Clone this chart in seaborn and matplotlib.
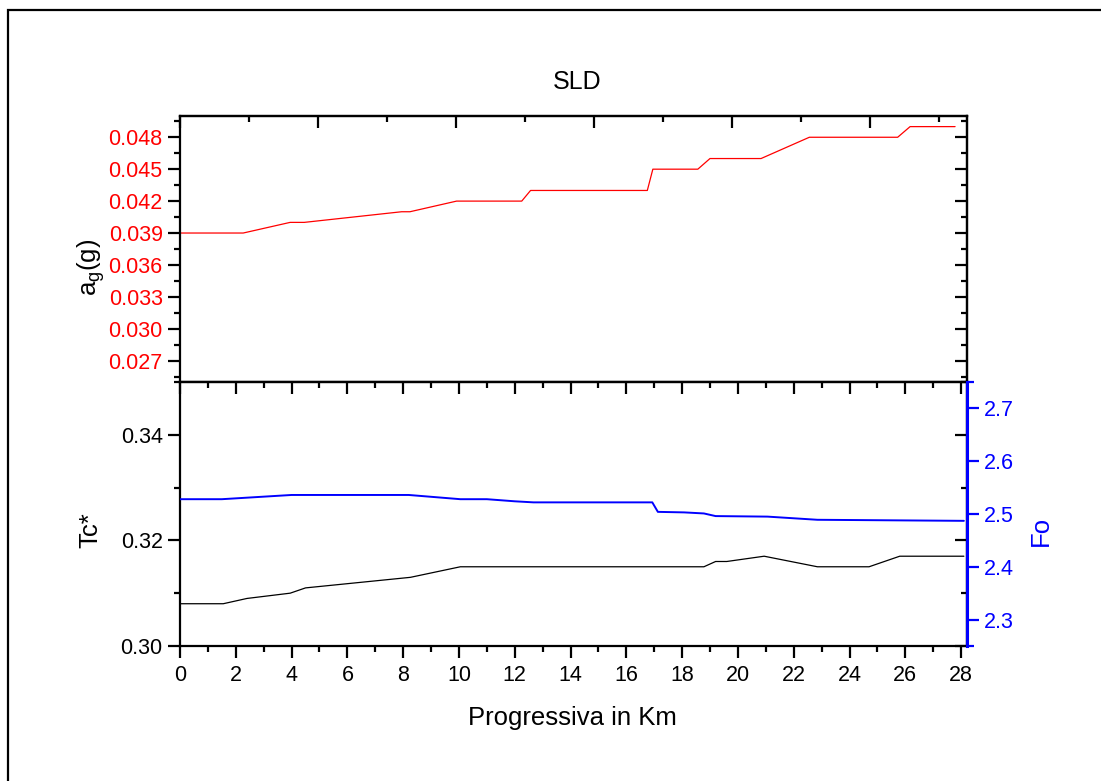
import matplotlib
matplotlib.use('Agg')
import matplotlib.pyplot as plt
from matplotlib.patches import Rectangle
from matplotlib.ticker import MultipleLocator, FixedLocator, FormatStrFormatter, NullFormatter
import pandas as pd
import seaborn as sns

# --- data ---
km_ag = [0, 2.29, 3.99, 4.5, 8.03, 8.33, 10.02, 12.38, 12.7, 16.93, 17.13,
         18.76, 19.2, 21.05, 22.8, 26.0, 26.45, 28.08]
ag_values = [0.039, 0.039, 0.040, 0.040, 0.041, 0.041, 0.042, 0.042, 0.043, 0.043,
             0.045, 0.045, 0.046, 0.046, 0.048, 0.048, 0.049, 0.049]

km_tc = [0, 1.55, 2.4, 3.95, 4.5, 8.26, 10.05, 18.78, 19.2, 19.6, 20.94,
         22.85, 24.7, 25.8, 28.1]
tc_values = [0.308, 0.308, 0.309, 0.310, 0.311, 0.313, 0.315, 0.315, 0.316, 0.316,
             0.317, 0.315, 0.315, 0.317, 0.317]

km_fo = [0, 1.5, 4.0, 8.2, 10.05, 11.0, 12.0, 12.67, 16.93, 17.13, 18.07,
         18.78, 19.2, 21.06, 22.85, 28.1]
fo_values = [2.528, 2.528, 2.536, 2.536, 2.528, 2.528, 2.524, 2.522, 2.522, 2.504,
             2.503, 2.501, 2.496, 2.495, 2.489, 2.487]

df_ag = pd.DataFrame({'km': km_ag, 'ag': ag_values})
df_tc = pd.DataFrame({'km': km_tc, 'tc': tc_values})
df_fo = pd.DataFrame({'km': km_fo, 'fo': fo_values})

sns.set_theme(style='ticks')
plt.rcParams['font.family'] = ['Liberation Sans', 'DejaVu Sans']
plt.rcParams['mathtext.fontset'] = 'custom'
plt.rcParams['mathtext.rm'] = 'Liberation Sans'
plt.rcParams['text.color'] = 'black'
plt.rcParams['axes.labelcolor'] = 'black'
plt.rcParams['xtick.color'] = 'black'
plt.rcParams['ytick.color'] = 'black'
plt.rcParams['axes.edgecolor'] = 'black'

TICK_FS = 15.5
LABEL_FS = 18.5
SPINE_W = 1.6


def _style_spines(ax, color='black'):
	for sp in ax.spines.values():
		sp.set_linewidth(SPINE_W)
		sp.set_color(color)


def _secondary(ax, where, major, minor, color='black'):
	if where in ('top', 'bottom'):
		sec = ax.secondary_xaxis(where)
		axis = sec.xaxis
	else:
		sec = ax.secondary_yaxis(where)
		axis = sec.yaxis
	axis.set_major_locator(major)
	axis.set_minor_locator(minor)
	axis.set_major_formatter(NullFormatter())
	sec.tick_params(which='major', direction='in', length=8.5, width=SPINE_W, color=color)
	sec.tick_params(which='minor', direction='in', length=4.5, width=SPINE_W, color=color)
	for sp in sec.spines.values():
		sp.set_linewidth(SPINE_W)
		sp.set_color(color)
	return sec


fig = plt.figure(figsize=(11.01, 7.81), dpi=100)
ax_top = fig.add_axes([0.1635, 0.5109, 0.7145, 0.3406])
ax_bot = fig.add_axes([0.1635, 0.1729, 0.7145, 0.3380])

# --- top panel: a_g ---
sns.lineplot(data=df_ag, x='km', y='ag', ax=ax_top, color='#ff0000', linewidth=0.9)
ax_top.set_xlim(0, 28.5)
ax_top.set_ylim(0.025, 0.050)
ax_top.set_xlabel('')
ax_top.set_ylabel('')
ax_top.yaxis.set_major_locator(MultipleLocator(0.003))
ax_top.yaxis.set_minor_locator(MultipleLocator(0.0015))
ax_top.yaxis.set_major_formatter(FormatStrFormatter('%.3f'))
ax_top.tick_params(axis='x', which='both', bottom=False, labelbottom=False)
ax_top.tick_params(axis='y', which='major', direction='out', length=8.5, width=SPINE_W,
                   labelsize=TICK_FS, labelcolor='#ff0000', pad=4)
ax_top.tick_params(axis='y', which='minor', direction='out', length=4.5, width=SPINE_W)
_style_spines(ax_top)
_secondary(ax_top, 'top', MultipleLocator(5), MultipleLocator(2.5))
_secondary(ax_top, 'right', MultipleLocator(0.003), MultipleLocator(0.0015))

# --- bottom panel: Tc* (left) and Fo (right) ---
sns.lineplot(data=df_tc, x='km', y='tc', ax=ax_bot, color='black', linewidth=0.9)
ax_bot.set_xlim(0, 28.2)
ax_bot.set_ylim(0.30, 0.35)
ax_bot.set_xlabel('')
ax_bot.set_ylabel('')
ax_bot.xaxis.set_major_locator(MultipleLocator(2))
ax_bot.xaxis.set_minor_locator(MultipleLocator(1))
ax_bot.yaxis.set_major_locator(MultipleLocator(0.02))
ax_bot.yaxis.set_minor_locator(MultipleLocator(0.01))
ax_bot.yaxis.set_major_formatter(FormatStrFormatter('%.2f'))
ax_bot.tick_params(which='major', direction='out', length=8.5, width=SPINE_W,
                   labelsize=TICK_FS, pad=4)
ax_bot.tick_params(which='minor', direction='out', length=4.5, width=SPINE_W)
ax_bot.tick_params(axis='x', which='major', pad=5)
_style_spines(ax_bot)
_secondary(ax_bot, 'top', MultipleLocator(2), MultipleLocator(1))
_secondary(ax_bot, 'right', MultipleLocator(0.02), MultipleLocator(0.01))

ax_fo = ax_bot.twinx()
sns.lineplot(data=df_fo, x='km', y='fo', ax=ax_fo, color='#0000ff', linewidth=1.4)
ax_fo.set_ylim(2.25, 2.75)
ax_fo.set_xlabel('')
ax_fo.set_ylabel('')
ax_fo.yaxis.set_major_locator(MultipleLocator(0.1))
ax_fo.yaxis.set_minor_locator(FixedLocator([2.25, 2.75]))
ax_fo.yaxis.set_major_formatter(FormatStrFormatter('%.1f'))
ax_fo.tick_params(axis='y', which='major', direction='out', length=8.5, width=SPINE_W,
                  color='#0000ff', labelcolor='#0000ff', labelsize=TICK_FS, pad=4)
ax_fo.tick_params(axis='y', which='minor', direction='out', length=5, width=SPINE_W,
                  color='#0000ff')
for name, sp in ax_fo.spines.items():
	sp.set_visible(name == 'right')
ax_fo.spines['right'].set_color('#0000ff')
ax_fo.spines['right'].set_linewidth(SPINE_W + 0.6)

# --- labels ---
fig.text(0.524, 0.886, 'SLD', ha='center', va='baseline', fontsize=18)
fig.text(0.5203, 0.0717, 'Progressiva in Km', ha='center', va='baseline', fontsize=LABEL_FS)
fig.text(0.0881, 0.658, r'a$_\mathregular{g}$(g)', rotation=90, rotation_mode='anchor',
         ha='center', va='baseline', fontsize=LABEL_FS)
fig.text(0.0881, 0.321, 'Tc*', rotation=90, rotation_mode='anchor',
         ha='center', va='baseline', fontsize=LABEL_FS)
fig.text(0.9519, 0.320, 'Fo', rotation=90, rotation_mode='anchor', color='#0000ff',
         ha='center', va='baseline', fontsize=LABEL_FS)

# outer frame, cut by the right and bottom edges as in the reference
fig.add_artist(Rectangle((8 / 1101, -0.1), 1.2, 1.1 - 10 / 781, transform=fig.transFigure,
                         fill=False, edgecolor='black', linewidth=1.6))

fig.savefig('out.png', dpi=100)
